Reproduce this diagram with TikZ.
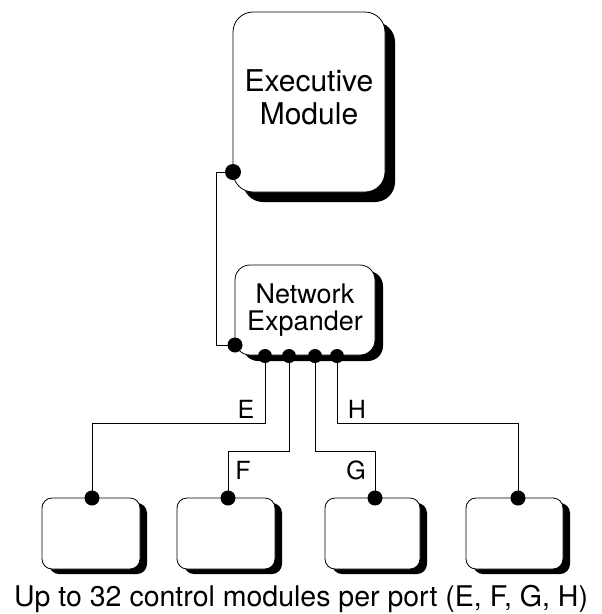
\documentclass[tikz,border=0pt]{standalone}
\usepackage{fontspec}
\setmainfont{TeX Gyre Heros}
\usetikzlibrary{shadows}

\begin{document}
\begin{tikzpicture}[x=1pt,y=-1pt]
\tikzstyle{module}=[rectangle, draw, fill=white, line width=.8pt, inner sep=0pt, align=center];
\tikzstyle{port}=[circle, fill=black, inner sep=0pt];
\tikzstyle{bus}=[draw, line width=.8pt];
\useasboundingbox (0,0) rectangle (602,614);
\coordinate (exec_c) at (309,102);
\coordinate (net_c) at (305,310);
\coordinate (mod_e_c) at (91,533.5);
\coordinate (mod_f_c) at (226,533.5);
\coordinate (mod_g_c) at (372.5,533.5);
\coordinate (mod_h_c) at (514.5,533.5);
\coordinate (exec_port) at (233,172);
\coordinate (net_in) at (235,345);
\coordinate (port_e) at (265,356);
\coordinate (port_f) at (289,356);
\coordinate (port_g) at (315,356);
\coordinate (port_h) at (337,356);
\coordinate (mod_e_port) at (92,498);
\coordinate (mod_f_port) at (228,498);
\coordinate (mod_g_port) at (375,498);
\coordinate (mod_h_port) at (518,498);
\node (exec) at (exec_c) [module, rounded corners=20pt, minimum width=152pt, minimum height=180pt, text depth=10pt, font=\fontsize{30}{33}\selectfont, drop shadow={shadow xshift=10pt, shadow yshift=-10pt, fill=black, opacity=1}] {Executive\\Module};
\node (net) at (net_c) [module, rounded corners=15pt, minimum width=140pt, minimum height=90pt, font=\fontsize{27}{27}\selectfont, drop shadow={shadow xshift=8pt, shadow yshift=-6pt, fill=black, opacity=1}] {Network\\Expander};
\node (mod_e) at (mod_e_c) [module, rounded corners=10pt, minimum width=98pt, minimum height=71pt, drop shadow={shadow xshift=7pt, shadow yshift=-5pt, fill=black, opacity=1}] {};
\node (mod_f) at (mod_f_c) [module, rounded corners=10pt, minimum width=98pt, minimum height=71pt, drop shadow={shadow xshift=7pt, shadow yshift=-5pt, fill=black, opacity=1}] {};
\node (mod_g) at (mod_g_c) [module, rounded corners=10pt, minimum width=95pt, minimum height=71pt, drop shadow={shadow xshift=7pt, shadow yshift=-5pt, fill=black, opacity=1}] {};
\node (mod_h) at (mod_h_c) [module, rounded corners=10pt, minimum width=97pt, minimum height=71pt, drop shadow={shadow xshift=7pt, shadow yshift=-5pt, fill=black, opacity=1}] {};
\node (label_e) at (246,409) [font=\fontsize{25}{25}\selectfont] {E};
\node (label_f) at (243,470) [font=\fontsize{25}{25}\selectfont] {F};
\node (label_g) at (356,470) [font=\fontsize{25}{25}\selectfont] {G};
\node (label_h) at (357,409) [font=\fontsize{25}{25}\selectfont] {H};
\node (caption) at (301,606) [anchor=base, font=\fontsize{28.5}{28.5}\selectfont] {Up to 32 control modules per port (E, F, G, H)};
\path (exec_port) -- ++(-17,0) |- (net_in) [bus];
\path (port_e) -- ++(0,67) -| (mod_e_port) [bus];
\path (port_f) -- ++(0,95) -| (mod_f_port) [bus];
\path (port_g) -- ++(0,95) -| (mod_g_port) [bus];
\path (port_h) -- ++(0,67) -| (mod_h_port) [bus];
\node (exec_dot) at (exec_port) [port, minimum size=16pt] {};
\node (net_dot) at (net_in) [port, minimum size=15pt] {};
\node (dot_e) at (port_e) [port, minimum size=14pt] {};
\node (dot_f) at (port_f) [port, minimum size=14pt] {};
\node (dot_g) at (port_g) [port, minimum size=14pt] {};
\node (dot_h) at (port_h) [port, minimum size=14pt] {};
\node (mod_e_dot) at (mod_e_port) [port, minimum size=15pt] {};
\node (mod_f_dot) at (mod_f_port) [port, minimum size=15pt] {};
\node (mod_g_dot) at (mod_g_port) [port, minimum size=15pt] {};
\node (mod_h_dot) at (mod_h_port) [port, minimum size=15pt] {};
\end{tikzpicture}
\end{document}
